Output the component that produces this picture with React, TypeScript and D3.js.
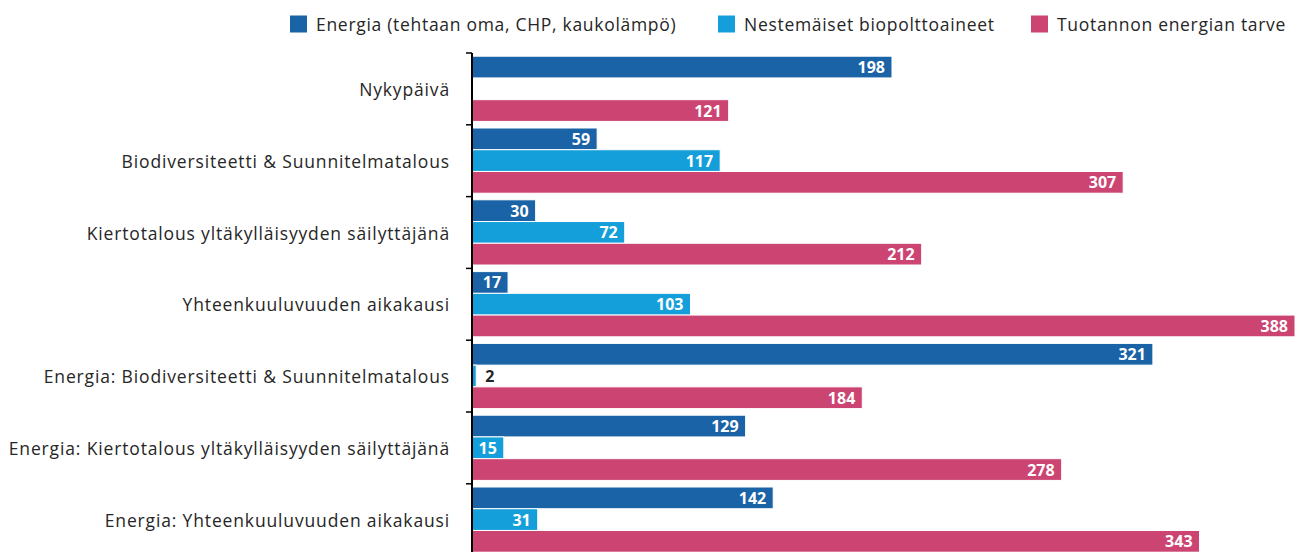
import React from "react";
import * as d3 from "d3";

const categories = [
  "Nykypäivä",
  "Biodiversiteetti & Suunnitelmatalous",
  "Kiertotalous yltäkylläisyyden säilyttäjänä",
  "Yhteenkuuluvuuden aikakausi",
  "Energia: Biodiversiteetti & Suunnitelmatalous",
  "Energia: Kiertotalous yltäkylläisyyden säilyttäjänä",
  "Energia: Yhteenkuuluvuuden aikakausi",
];
const seriesNames = [
  "Energia (tehtaan oma, CHP, kaukolämpö)",
  "Nestemäiset biopolttoaineet",
  "Tuotannon energian tarve",
];
const energia: (number | null)[] = [198, 59, 30, 17, 321, 129, 142];
const neste: (number | null)[] = [null, 117, 72, 103, 2, 15, 31];
const tarve: (number | null)[] = [121, 307, 212, 388, 184, 278, 343];
const seriesValues = [energia, neste, tarve];
const colors = ["#1a63a6", "#159fda", "#cc4472"];

const W = 1310;
const H = 552;
const FONT = "'Open Sans', sans-serif";

export default function App() {
  const x0 = 472;
  const x = d3.scaleLinear().domain([0, 388]).range([x0, 1295]);
  const y = d3.scaleBand<string>().domain(categories).range([53, 53 + 7 * 71.8]).padding(0);
  const sub = d3.scaleBand<number>().domain([0, 1, 2]).range([3.2, 68.4]).padding(0);
  const legendX = [290, 718, 1031];

  return (
    <svg width={W} height={H} style={{ position: "absolute", left: 0, top: 0 }} fontFamily={FONT}>
      {seriesNames.map((n, i) => (
        <g key={n}>
          <rect x={legendX[i]} y={15.5} width={17} height={17} fill={colors[i]} />
          <text x={legendX[i] + 26} y={24} dominantBaseline="central" fontSize={17.5} letterSpacing={0.7} fill="#262626">
            {n}
          </text>
        </g>
      ))}
      {categories.map((c, ci) => {
        const gy = y(c)!;
        return (
          <g key={c}>
            <text x={450} y={gy + y.bandwidth() / 2} textAnchor="end" dominantBaseline="central" fontSize={17.5} letterSpacing={0.85} fill="#262626">
              {c}
            </text>
            {seriesValues.map((vals, si) => {
              const v = vals[ci];
              if (v == null) return null;
              const by = gy + sub(si)!;
              const bh = sub.bandwidth();
              const xe = x(v);
              const wBar = xe - x0;
              const label = String(v);
              const inside = wBar > label.length * 9.2 + 10;
              return (
                <g key={si}>
                  <rect x={x0} y={by} width={wBar} height={bh} fill={colors[si]} stroke="#fff" strokeWidth={1} />
                  <text
                    x={inside ? xe - 7 : xe + 9}
                    y={by + bh / 2}
                    textAnchor={inside ? "end" : "start"}
                    dominantBaseline="central"
                    fontSize={16}
                    fontWeight="bold"
                    fill={inside ? "#fff" : "#262626"}
                  >
                    {label}
                  </text>
                </g>
              );
            })}
          </g>
        );
      })}
      <line x1={x0} x2={x0} y1={53} y2={H} stroke="#000" strokeWidth={2} />
      {categories.map((c) => (
        <line key={c} x1={x0 - 6} x2={x0} y1={y(c)!} y2={y(c)!} stroke="#000" strokeWidth={1.5} />
      ))}
    </svg>
  );
}
